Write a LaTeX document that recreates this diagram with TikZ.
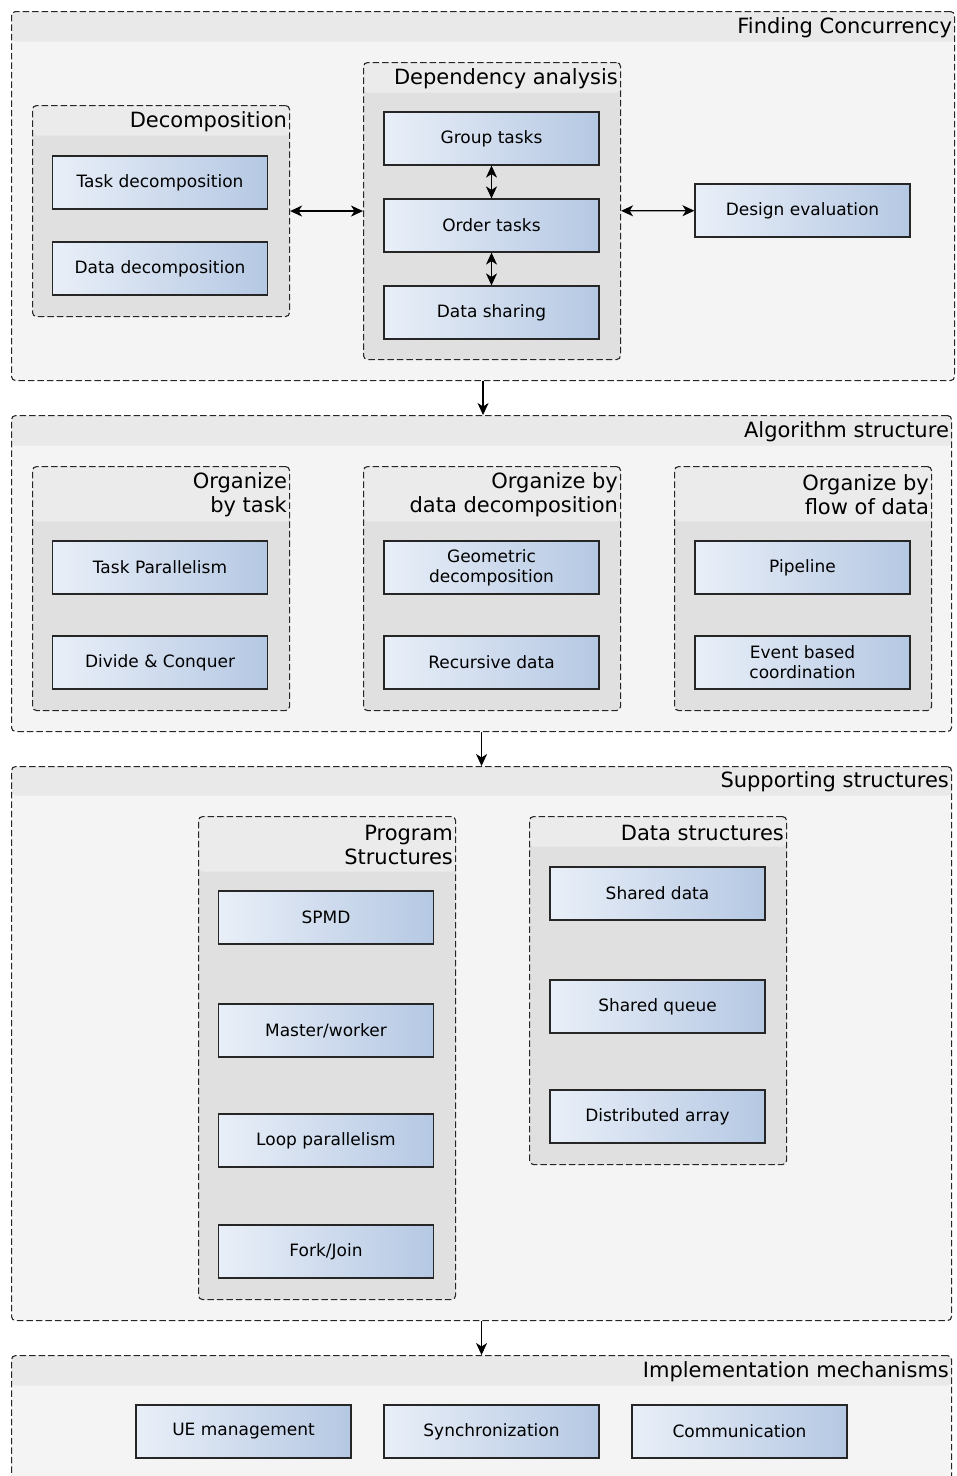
\documentclass[tikz,border=0pt]{standalone}
\usepackage{fontspec}
\setmainfont{DejaVu Sans}
\usetikzlibrary{arrows.meta}

\definecolor{outbody}{HTML}{F4F4F4}
\definecolor{outhead}{HTML}{E9E9E9}
\definecolor{subbody}{HTML}{E0E0E0}
\definecolor{subhead}{HTML}{EBEBEB}
\definecolor{boxleft}{HTML}{E9EFF8}
\definecolor{boxright}{HTML}{B5C8E3}

\tikzset{
  grp/.style n args={3}{draw=black!85, line width=1.1pt, dash pattern=on 6.5pt off 3pt,
    rounded corners=4pt, fill=#1, inner sep=0pt, anchor=north west,
    path picture={\fill[#2] (path picture bounding box.north west)
      rectangle ([yshift=-#3]path picture bounding box.north east);}},
  pbox/.style={draw=black!85, line width=1.2pt, left color=boxleft, right color=boxright,
    minimum width=215pt, minimum height=53pt, inner sep=0pt, align=center,
    font=\fontsize{17}{20}\selectfont},
  ttl/.style={anchor=east, inner sep=3pt, yshift=-1.5pt, align=right,
    font=\fontsize{21}{24}\selectfont},
  link/.style={line width=1.2pt, -{Stealth[length=12pt,width=11pt,inset=3.5pt]}},
  dlink/.style={line width=1.2pt,
    {Stealth[length=12pt,width=11pt,inset=3.5pt]}-{Stealth[length=12pt,width=11pt,inset=3.5pt]}}
}

\begin{document}
\begin{tikzpicture}[x=1pt,y=-1pt]
  \useasboundingbox (0,0) rectangle (957,1476);
  \clip (0,0) rectangle (957,1476);

  % Finding Concurrency
  \node[grp={outbody}{outhead}{30pt}, minimum width=943pt, minimum height=369pt] (fc) at (11,11) {};
  \node[ttl] (fct) at ([yshift=-15pt]fc.north east) {Finding Concurrency};
  \node[grp={subbody}{subhead}{30pt}, minimum width=257pt, minimum height=211pt] (dec) at (32,105) {};
  \node[ttl] (dect) at ([yshift=-15pt]dec.north east) {Decomposition};
  \node[grp={subbody}{subhead}{30pt}, minimum width=257pt, minimum height=297pt] (dep) at (363,62) {};
  \node[ttl] (dept) at ([yshift=-15pt]dep.north east) {Dependency analysis};
  \node[pbox] (taskdec) at (160,182.5) {Task decomposition};
  \node[pbox] (datadec) at (160,268.5) {Data decomposition};
  \node[pbox] (group) at (491.5,138.5) {Group tasks};
  \node[pbox] (order) at (491.5,225.5) {Order tasks};
  \node[pbox] (share) at (491.5,312.5) {Data sharing};
  \node[pbox] (design) at (802.5,210.5) {Design evaluation};
  \draw[dlink] (dec) -- (dep);
  \draw[dlink] (dep) -- (design);
  \draw[dlink] (group) -- (order);
  \draw[dlink] (order) -- (share);

  % Algorithm structure
  \node[grp={outbody}{outhead}{30pt}, minimum width=940pt, minimum height=316pt] (alg) at (11,415) {};
  \node[ttl] (algt) at ([yshift=-15pt]alg.north east) {Algorithm structure};
  \node[grp={subbody}{subhead}{55pt}, minimum width=257pt, minimum height=244pt] (otask) at (32,466) {};
  \node[ttl] (otaskt) at ([yshift=-27.5pt]otask.north east) {Organize\\by task};
  \node[grp={subbody}{subhead}{55pt}, minimum width=257pt, minimum height=244pt] (odata) at (363,466) {};
  \node[ttl] (odatat) at ([yshift=-27.5pt]odata.north east) {Organize by\\data decomposition};
  \node[grp={subbody}{subhead}{55pt}, minimum width=257pt, minimum height=244pt] (oflow) at (674,466) {};
  \node[ttl] (oflowt) at ([yshift=-27.5pt]oflow.north east) {Organize by\\flow of data};
  \node[pbox] (taskpar) at (160,567.5) {Task Parallelism};
  \node[pbox] (divcon) at (160,662.5) {Divide \& Conquer};
  \node[pbox] (geodec) at (491.5,567.5) {Geometric\\decomposition};
  \node[pbox] (recdata) at (491.5,662.5) {Recursive data};
  \node[pbox] (pipe) at (802.5,567.5) {Pipeline};
  \node[pbox] (event) at (802.5,662.5) {Event based\\coordination};
  \draw[link] (fc.south) -- (fc.south |- alg.north);

  % Supporting structures
  \node[grp={outbody}{outhead}{29pt}, minimum width=940pt, minimum height=554pt] (sup) at (11,766) {};
  \node[ttl] (supt) at ([yshift=-14.5pt]sup.north east) {Supporting structures};
  \node[grp={subbody}{subhead}{55pt}, minimum width=257pt, minimum height=483pt] (prog) at (198,816) {};
  \node[ttl] (progt) at ([yshift=-27.5pt]prog.north east) {Program\\Structures};
  \node[grp={subbody}{subhead}{30pt}, minimum width=257pt, minimum height=348pt] (dstr) at (529,816) {};
  \node[ttl] (dstrt) at ([yshift=-15pt]dstr.north east) {Data structures};
  \foreach \y/\n/\t in {917.5/spmd/SPMD, 1030.5/master/Master\slash worker,
      1140.5/loop/Loop parallelism, 1251.5/fork/Fork\slash Join}
    \node[pbox] (\n) at (326,\y) {\t};
  \foreach \y/\n/\t in {893.5/sdata/Shared data, 1006.5/squeue/Shared queue,
      1116.5/darray/Distributed array}
    \node[pbox] (\n) at (657.5,\y) {\t};
  \draw[link] (alg.south) -- (alg.south |- sup.north);

  % Implementation mechanisms
  \node[grp={outbody}{outhead}{30pt}, minimum width=940pt, minimum height=200pt] (impl) at (11,1355) {};
  \node[ttl] (implt) at ([yshift=-15pt]impl.north east) {Implementation mechanisms};
  \node[pbox] (ue) at (243.5,1431.5) {UE management};
  \node[pbox] (sync) at (491.5,1431.5) {Synchronization};
  \node[pbox] (comm) at (739.5,1431.5) {Communication};
  \draw[link] (sup.south) -- (sup.south |- impl.north);
\end{tikzpicture}
\end{document}
